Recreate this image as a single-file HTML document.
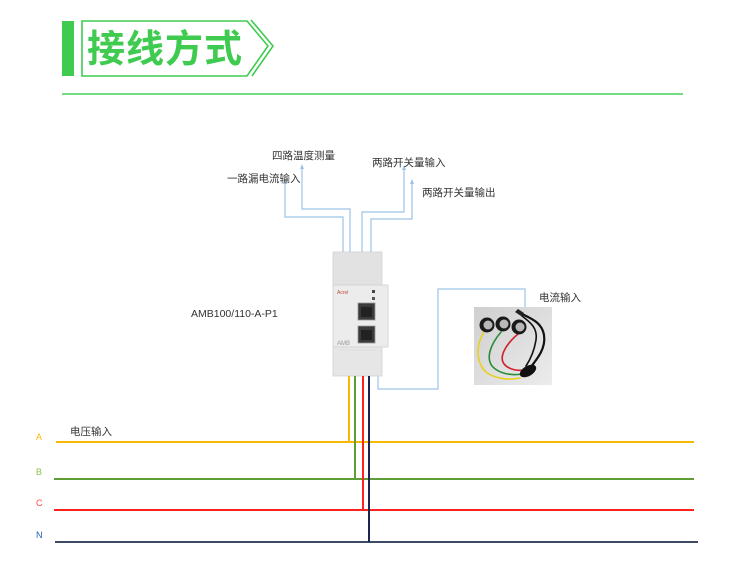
<!DOCTYPE html>
<html><head><meta charset="utf-8"><style>
html,body{margin:0;padding:0;background:#fff;}
body{width:750px;height:562px;overflow:hidden;position:relative;}
svg{position:absolute;left:0;top:0;}
.t{font-family:"Liberation Sans","Noto Sans CJK SC",sans-serif;font-size:10.5px;fill:#333;}
</style></head><body>
<svg width="750" height="562" viewBox="0 0 750 562" xmlns="http://www.w3.org/2000/svg">
<!-- header -->
<rect x="62" y="21" width="12" height="55" fill="#3ecb4f"/>
<path d="M82,21 L247,21 L268,46 L247,76 L82,76 Z" fill="none" stroke="#3ecb4f" stroke-width="1.6"/>
<path d="M251,20 L273,46 L252,76" fill="none" stroke="#3ecb4f" stroke-width="1.6"/>
<text x="87" y="62" font-family="'Noto Sans CJK SC','WenQuanYi Zen Hei',sans-serif" font-weight="bold" font-size="38" fill="#3ecb4f" letter-spacing="1">接线方式</text>
<line x1="62" y1="94" x2="683" y2="94" stroke="#45d45a" stroke-width="1.5"/>

<!-- blue signal lines -->
<g fill="none" stroke="#9cc3e6" stroke-width="1.2">
<polyline points="343,253 343,217 285,217 285,183"/>
<polyline points="350,253 350,209 302,209 302,168"/>
<polyline points="362,253 362,212 404,212 404,169"/>
<polyline points="371,253 371,219 412,219 412,183"/>
<polyline points="378,376 378,389 438,389 438,289 525,289 525,307"/>
</g>
<g fill="#9cc3e6">
<path d="M285,179 L283,184 L287,184 Z"/>
<path d="M302,164 L300,169 L304,169 Z"/>
<path d="M404,165 L402,170 L406,170 Z"/>
<path d="M412,179 L410,184 L414,184 Z"/>
</g>
<text class="t" x="272" y="159">四路温度测量</text>
<text class="t" x="227" y="182">一路漏电流输入</text>
<text class="t" x="372" y="166">两路开关量输入</text>
<text class="t" x="422" y="196">两路开关量输出</text>
<text class="t" x="539" y="301">电流输入</text>
<text class="t" x="191" y="317" font-size="10">AMB100/110-A-P1</text>

<!-- device -->
<rect x="333" y="252" width="49" height="34" fill="#e2e2e2" stroke="#d2d2d2" stroke-width="0.8"/>
<rect x="333" y="285" width="55" height="62" fill="#ececec" stroke="#cfcfcf" stroke-width="0.8"/>
<rect x="333" y="347" width="49" height="29" fill="#e6e6e6" stroke="#d2d2d2" stroke-width="0.8"/>
<text x="337" y="294" font-family="Liberation Sans,sans-serif" font-size="5" fill="#c05040">Acrel</text>
<rect x="372" y="290" width="3" height="3" fill="#444"/>
<rect x="372" y="297" width="3" height="3" fill="#555"/>
<rect x="358" y="303" width="17" height="17" fill="#3a3a3a" stroke="#999" stroke-width="0.8"/>
<rect x="361" y="307" width="11" height="10" fill="#222"/>
<rect x="358" y="326" width="17" height="17" fill="#3a3a3a" stroke="#999" stroke-width="0.8"/>
<rect x="361" y="330" width="11" height="10" fill="#222"/>
<text x="337" y="345" font-family="Liberation Sans,sans-serif" font-size="6" fill="#999">AMB</text>
<line x1="340" y1="350" x2="376" y2="350" stroke="#dcdcdc" stroke-width="0.8"/>

<!-- phase lines -->
<line x1="56" y1="442" x2="694" y2="442" stroke="#f8b800" stroke-width="2"/>
<line x1="54" y1="479" x2="694" y2="479" stroke="#5e9e34" stroke-width="2"/>
<line x1="54" y1="510" x2="694" y2="510" stroke="#ff2020" stroke-width="2"/>
<line x1="55" y1="542" x2="698" y2="542" stroke="#3d4a66" stroke-width="2"/>
<polyline points="349,376 349,442" fill="none" stroke="#f8b800" stroke-width="2"/>
<polyline points="355,376 355,479" fill="none" stroke="#5e9e34" stroke-width="2"/>
<polyline points="363,376 363,510" fill="none" stroke="#ff2020" stroke-width="2"/>
<polyline points="369,376 369,542" fill="none" stroke="#1c2452" stroke-width="2"/>

<text x="36" y="440" font-family="Liberation Sans,sans-serif" font-size="9" fill="#f8b800">A</text>
<text x="36" y="475" font-family="Liberation Sans,sans-serif" font-size="9" fill="#8cc44a">B</text>
<text x="36" y="506" font-family="Liberation Sans,sans-serif" font-size="9" fill="#ff4a4a">C</text>
<text x="36" y="538" font-family="Liberation Sans,sans-serif" font-size="9" fill="#2060b0">N</text>
<text class="t" x="70" y="435">电压输入</text>

<!-- photo -->
<defs><linearGradient id="pg" x1="0" y1="0" x2="1" y2="1"><stop offset="0" stop-color="#cfcfcf"/><stop offset="1" stop-color="#ececec"/></linearGradient></defs>
<rect x="474" y="307" width="78" height="78" fill="url(#pg)"/>
<g fill="none" stroke-linecap="round">
<path d="M484,332 C476,345 476,360 484,370 C490,377 505,381 520,378" stroke="#e8d020" stroke-width="1.6"/>
<path d="M501,332 C490,345 486,358 492,366 C498,373 510,376 522,374" stroke="#2a8a3a" stroke-width="1.6"/>
<path d="M518,334 C505,345 498,358 505,365 C510,370 518,371 525,370" stroke="#d02030" stroke-width="1.6"/>
<path d="M520,313 C530,318 542,322 544,335 C546,348 538,358 530,368" stroke="#111" stroke-width="2.2"/>
<path d="M522,316 C530,322 538,328 536,340 C534,352 530,360 526,366" stroke="#111" stroke-width="1.6"/>
</g>
<path d="M518,309 L524,313 L521,316 L515,312 Z" fill="#222"/>
<ellipse cx="528" cy="371" rx="9" ry="5" fill="#111" transform="rotate(-30 528 371)"/>
<circle cx="487" cy="325" r="7.5" fill="#1a1a1a"/><circle cx="488" cy="325" r="4.5" fill="#b8b8b8"/>
<circle cx="503" cy="324" r="7.5" fill="#1a1a1a"/><circle cx="504" cy="324" r="4.5" fill="#b8b8b8"/>
<circle cx="519" cy="327" r="7.5" fill="#1a1a1a"/><circle cx="520" cy="327" r="4.5" fill="#b8b8b8"/>
</svg>
</body></html>
